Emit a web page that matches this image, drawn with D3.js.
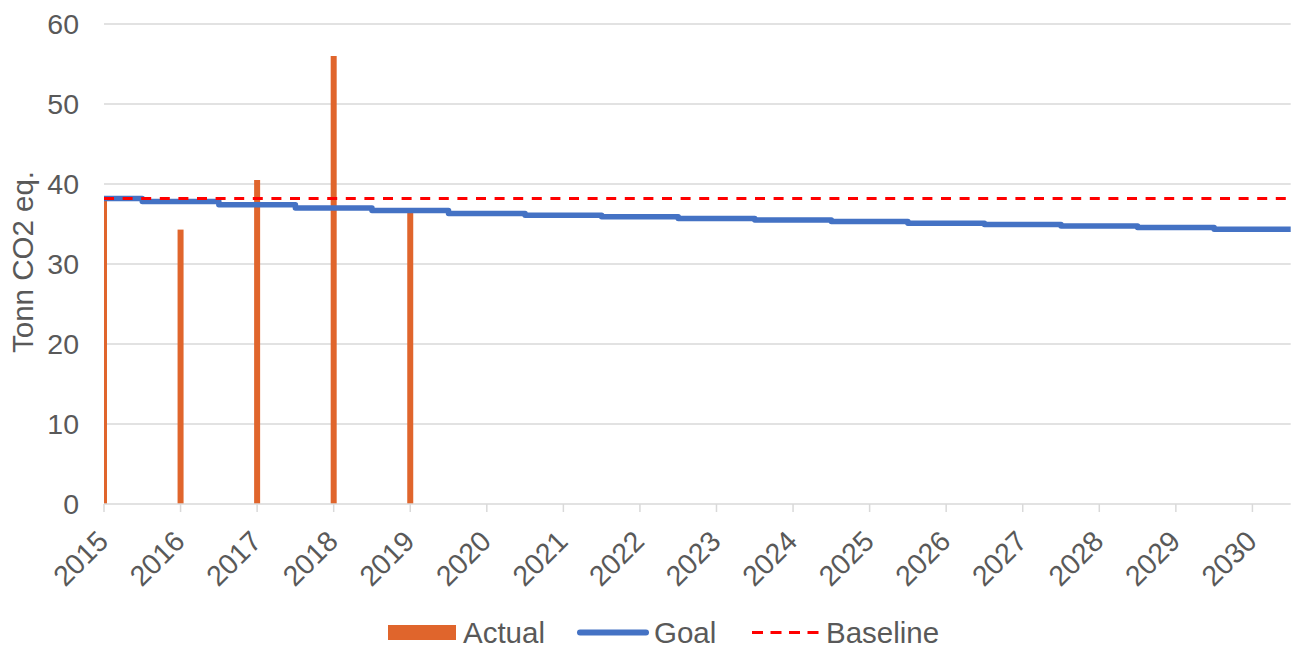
<!DOCTYPE html>
<html>
<head>
<meta charset="utf-8">
<script src="https://cdn.jsdelivr.net/npm/d3@7"></script>
<style>
  body { margin: 0; background: #fff; }
  text { font-family: "Liberation Sans", Arial, sans-serif; fill: #595959; }
</style>
</head>
<body>
<script>
/* ------------------------------- chart data ------------------------------- */
const years = d3.range(2015, 2031)
const actualYears = [2015, 2016, 2017, 2018, 2019]
const actualValues = [38.2, 34.3, 40.5, 56.0, 36.5]
const goalValues = [38.2, 37.8, 37.4, 37.0, 36.7, 36.3, 36.1, 35.9, 35.7, 35.5,
                    35.3, 35.1, 34.95, 34.75, 34.55, 34.35]
const baselineValue = 38.2
const yTicks = [0, 10, 20, 30, 40, 50, 60]
const legendLabels = ["Actual", "Goal", "Baseline"]

/* ------------------------------ document size ----------------------------- */
const width = 1292, height = 648
const margin = { top: 24, right: 1.3, bottom: 144, left: 104 }
const fontSize = "28.5px", legendFont = "29.5px"

const svg = d3.select("body").append("svg")
    .attr("width", width)
    .attr("height", height)

const x = d3.scaleLinear().domain([2015, 2030.5]).range([margin.left, width - margin.right])
const y = d3.scaleLinear().domain([0, 60]).range([height - margin.bottom, margin.top])

svg.append("defs").append("clipPath").attr("id", "plot")
    .append("rect")
    .attr("x", x.range()[0]).attr("y", 0)
    .attr("width", x.range()[1] - x.range()[0]).attr("height", y(0))

/* -------------------------------- gridlines ------------------------------- */
svg.append("g").selectAll("line").data(yTicks.slice(1)).enter().append("line")
    .attr("x1", x.range()[0]).attr("x2", x.range()[1])
    .attr("y1", d => y(d)).attr("y2", d => y(d))
    .attr("stroke", "#d9d9d9").attr("stroke-width", 1.5)

/* y tick labels */
svg.append("g").selectAll("text").data(yTicks).enter().append("text")
    .attr("x", 79).attr("y", d => y(d))
    .attr("dy", "0.36em")
    .attr("text-anchor", "end")
    .style("font-size", fontSize)
    .text(d => d)

/* y axis title */
svg.append("text")
    .attr("transform", "translate(33," + (y(30) - 2) + ") rotate(-90)")
    .attr("text-anchor", "middle")
    .style("font-size", legendFont)
    .text("Tonn CO2 eq.")

/* ---------------------------------- bars ---------------------------------- */
const barW = 6
svg.append("g").attr("clip-path", "url(#plot)")
    .selectAll("rect").data(actualYears).enter().append("rect")
    .attr("x", d => x(d) - barW / 2)
    .attr("width", barW)
    .attr("y", (d, i) => y(actualValues[i]))
    .attr("height", (d, i) => y(0) - y(actualValues[i]))
    .attr("fill", "#e0652c")

/* --------------------------------- x axis --------------------------------- */
svg.append("line")
    .attr("x1", x.range()[0]).attr("x2", x.range()[1])
    .attr("y1", y(0)).attr("y2", y(0))
    .attr("stroke", "#d9d9d9").attr("stroke-width", 1.5)

svg.append("g").selectAll("line").data(years).enter().append("line")
    .attr("x1", d => x(d)).attr("x2", d => x(d))
    .attr("y1", y(0)).attr("y2", y(0) + 8)
    .attr("stroke", "#d9d9d9").attr("stroke-width", 1.5)

svg.append("g").selectAll("text").data(years).enter().append("text")
    .attr("transform", d => "translate(" + (x(d) + 6) + "," + (y(0) + 39) + ") rotate(-45)")
    .attr("text-anchor", "end")
    .style("font-size", fontSize)
    .text(d => d)

/* -------------------------------- goal line ------------------------------- */
const [xMin, xMax] = x.domain()
const goalPts = []
years.forEach((yr, i) => {
    goalPts.push([Math.max(yr - 0.5, xMin), goalValues[i]])
    goalPts.push([Math.min(yr + 0.5, xMax), goalValues[i]])
})
svg.append("path")
    .datum(goalPts)
    .attr("d", d3.line().x(d => x(d[0])).y(d => y(d[1])))
    .attr("fill", "none")
    .attr("stroke", "#4472c4")
    .attr("stroke-width", 5.5)
    .attr("stroke-linejoin", "round")

/* ------------------------------ baseline line ----------------------------- */
svg.append("line")
    .attr("x1", x(xMin)).attr("x2", x(xMax))
    .attr("y1", y(baselineValue)).attr("y2", y(baselineValue))
    .attr("stroke", "#ff0000")
    .attr("stroke-width", 3)
    .attr("stroke-dasharray", "10,8.6")

/* --------------------------------- legend --------------------------------- */
const lg = svg.append("g").attr("transform", "translate(0,632.5)")
lg.append("rect").attr("x", 388).attr("y", -7.5).attr("width", 68).attr("height", 15).attr("fill", "#e0652c")
lg.append("line").attr("x1", 580).attr("x2", 646).attr("stroke", "#4472c4")
    .attr("stroke-width", 6).attr("stroke-linecap", "round")
lg.append("line").attr("x1", 752).attr("x2", 822).attr("stroke", "#ff0000")
    .attr("stroke-width", 3).attr("stroke-dasharray", "11,7.5")
lg.selectAll("text").data(legendLabels).enter().append("text")
    .attr("x", (d, i) => [463, 654, 826][i])
    .attr("dy", "0.36em")
    .style("font-size", legendFont)
    .text(d => d)
</script>
</body>
</html>
